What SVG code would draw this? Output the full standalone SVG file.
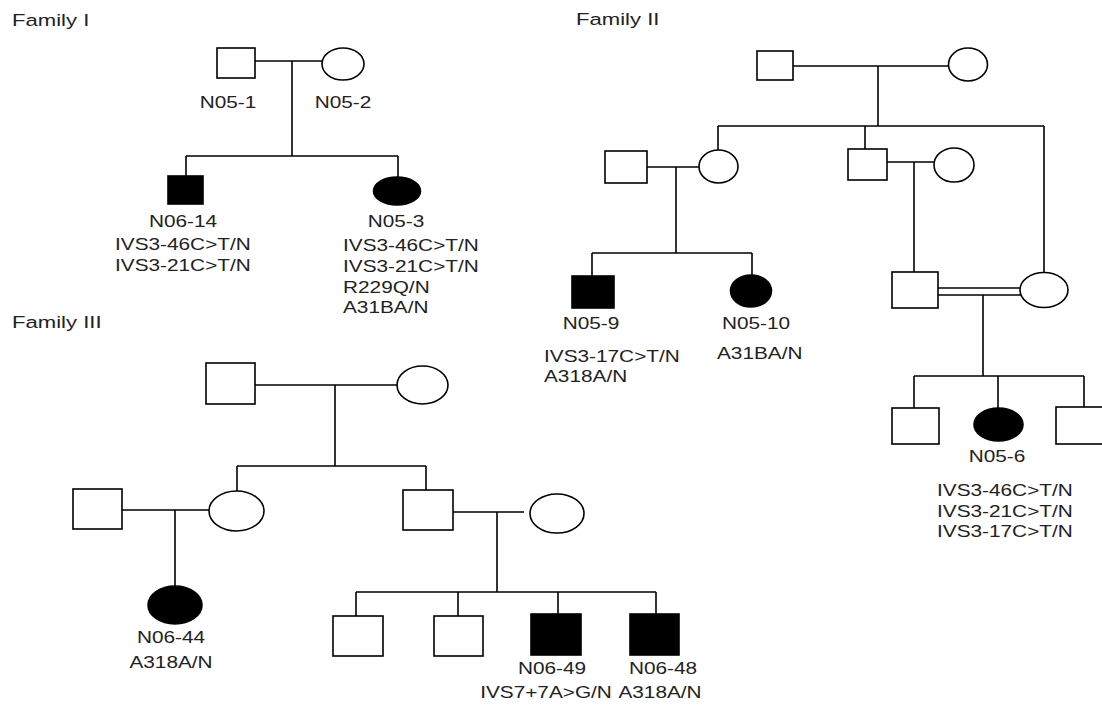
<svg xmlns="http://www.w3.org/2000/svg" width="1102" height="706" viewBox="0 0 1102 706">
<style>
.o{fill:#fff;stroke:#000;stroke-width:1.6}
.f{fill:#000;stroke:#000;stroke-width:1.6}
.c line{stroke:#000;stroke-width:1.6}
text{font-family:"Liberation Sans",Arial,sans-serif;font-size:16px;fill:#222}
.h{font-size:17px}
.m{text-anchor:middle}
</style>
<rect width="1102" height="706" fill="#fff"/>

<!-- Titles -->
<text class="h" transform="translate(12 26) scale(1.3 1)">Family I</text>
<text class="h" transform="translate(576 25) scale(1.3 1)">Family II</text>
<text class="h" transform="translate(12 328) scale(1.3 1)">Family III</text>

<!-- Connectors -->
<g id="connectors" class="c">
<!-- Family I -->
<line x1="255" y1="61" x2="322" y2="61"/>
<line x1="292" y1="61" x2="292" y2="156"/>
<line x1="186" y1="156" x2="398" y2="156"/>
<line x1="186" y1="156" x2="186" y2="176"/>
<line x1="398" y1="156" x2="398" y2="177"/>
<!-- Family II -->
<line x1="793" y1="66" x2="949" y2="66"/>
<line x1="878" y1="66" x2="878" y2="126"/>
<line x1="718" y1="126" x2="1044" y2="126"/>
<line x1="718" y1="126" x2="718" y2="150"/>
<line x1="865" y1="126" x2="865" y2="149"/>
<line x1="1044" y1="126" x2="1044" y2="272"/>
<line x1="647" y1="167" x2="699" y2="167"/>
<line x1="676" y1="167" x2="676" y2="253"/>
<line x1="592" y1="253" x2="752" y2="253"/>
<line x1="592" y1="253" x2="592" y2="276"/>
<line x1="752" y1="253" x2="752" y2="275"/>
<line x1="887" y1="162" x2="934" y2="162"/>
<line x1="914" y1="162" x2="914" y2="272"/>
<line x1="938" y1="288" x2="1020" y2="288"/>
<line x1="938" y1="295" x2="1021" y2="295"/>
<line x1="983" y1="295" x2="983" y2="376"/>
<line x1="914" y1="376" x2="1084" y2="376"/>
<line x1="914" y1="376" x2="914" y2="408"/>
<line x1="998" y1="376" x2="998" y2="408"/>
<line x1="1084" y1="376" x2="1084" y2="407"/>
<!-- Family III -->
<line x1="255" y1="385" x2="397" y2="385"/>
<line x1="335" y1="385" x2="335" y2="466"/>
<line x1="237" y1="466" x2="426" y2="466"/>
<line x1="237" y1="466" x2="237" y2="491"/>
<line x1="426" y1="466" x2="426" y2="490"/>
<line x1="122" y1="510" x2="209" y2="510"/>
<line x1="175" y1="510" x2="175" y2="586"/>
<line x1="453" y1="512" x2="524" y2="512"/>
<line x1="497" y1="512" x2="497" y2="592"/>
<line x1="356" y1="592" x2="656" y2="592"/>
<line x1="356" y1="592" x2="356" y2="616"/>
<line x1="458" y1="592" x2="458" y2="616"/>
<line x1="558" y1="592" x2="558" y2="614"/>
<line x1="656" y1="592" x2="656" y2="614"/>
</g>

<!-- Family I nodes -->
<g id="N05-1"><rect class="o" x="217" y="48" width="38" height="30"/><text class="m" transform="translate(228 108) scale(1.3 1)">N05-1</text></g>
<g id="N05-2"><ellipse class="o" cx="343" cy="64" rx="21" ry="16"/><text class="m" transform="translate(343 108) scale(1.3 1)">N05-2</text></g>
<g id="N06-14"><rect class="f" x="168" y="176" width="35" height="28"/>
<text class="m" transform="translate(183 227) scale(1.3 1)">N06-14</text>
<text transform="translate(115 250) scale(1.3 1)">IVS3-46C&gt;T/N</text>
<text transform="translate(115 271) scale(1.3 1)">IVS3-21C&gt;T/N</text></g>
<g id="N05-3"><ellipse class="f" cx="397" cy="191" rx="23.5" ry="14"/>
<text class="m" transform="translate(396 227) scale(1.3 1)">N05-3</text>
<text transform="translate(343 251) scale(1.3 1)">IVS3-46C&gt;T/N</text>
<text transform="translate(343 272) scale(1.3 1)">IVS3-21C&gt;T/N</text>
<text transform="translate(343 293) scale(1.3 1)">R229Q/N</text>
<text transform="translate(343 313) scale(1.3 1)">A31BA/N</text></g>

<!-- Family II nodes -->
<g id="II-gf"><rect class="o" x="757" y="51" width="36" height="29"/></g>
<g id="II-gm"><ellipse class="o" cx="968" cy="64.5" rx="19.5" ry="16.5"/></g>
<g id="II-f1"><rect class="o" x="605" y="151" width="42" height="32"/></g>
<g id="II-m1"><ellipse class="o" cx="718.5" cy="166.5" rx="19.5" ry="16.5"/></g>
<g id="II-s2"><rect class="o" x="848" y="149" width="39" height="31"/></g>
<g id="II-w2"><ellipse class="o" cx="954" cy="165" rx="20" ry="17"/></g>
<g id="N05-9"><rect class="f" x="572" y="276" width="42" height="32"/>
<text class="m" transform="translate(591 329) scale(1.3 1)">N05-9</text>
<text transform="translate(544 362) scale(1.3 1)">IVS3-17C&gt;T/N</text>
<text transform="translate(544 382) scale(1.3 1)">A318A/N</text></g>
<g id="N05-10"><ellipse class="f" cx="751" cy="291" rx="20.5" ry="16"/>
<text class="m" transform="translate(756 329) scale(1.3 1)">N05-10</text>
<text transform="translate(717 359) scale(1.3 1)">A31BA/N</text></g>
<g id="II-h3"><rect class="o" x="892" y="272" width="46" height="36"/></g>
<g id="II-w3"><ellipse class="o" cx="1044" cy="290" rx="24" ry="17.5"/></g>
<g id="II-c1"><rect class="o" x="892" y="408" width="47" height="36"/></g>
<g id="N05-6"><ellipse class="f" cx="998.5" cy="424.5" rx="24.5" ry="16.5"/>
<text class="m" transform="translate(997 462) scale(1.3 1)">N05-6</text>
<text transform="translate(937 496) scale(1.3 1)">IVS3-46C&gt;T/N</text>
<text transform="translate(937 517) scale(1.3 1)">IVS3-21C&gt;T/N</text>
<text transform="translate(937 537) scale(1.3 1)">IVS3-17C&gt;T/N</text></g>
<g id="II-c3"><rect class="o" x="1056" y="407" width="50" height="37"/></g>

<!-- Family III nodes -->
<g id="III-gf"><rect class="o" x="206" y="363" width="49" height="41"/></g>
<g id="III-gm"><ellipse class="o" cx="422.5" cy="385" rx="25.5" ry="19"/></g>
<g id="III-h1"><rect class="o" x="73" y="489" width="49" height="40"/></g>
<g id="III-d1"><ellipse class="o" cx="236.5" cy="511" rx="27.5" ry="20"/></g>
<g id="N06-44"><ellipse class="f" cx="175" cy="605" rx="27" ry="19"/>
<text class="m" transform="translate(171 643) scale(1.3 1)">N06-44</text>
<text class="m" transform="translate(171 668) scale(1.3 1)">A318A/N</text></g>
<g id="III-s2"><rect class="o" x="403" y="490" width="50" height="40"/></g>
<g id="III-w2"><ellipse class="o" cx="557" cy="513.5" rx="27" ry="19.5"/></g>
<g id="III-c1"><rect class="o" x="333" y="616" width="50" height="40"/></g>
<g id="III-c2"><rect class="o" x="434" y="616" width="49" height="40"/></g>
<g id="N06-49"><rect class="f" x="531" y="614" width="50" height="41"/>
<text class="m" transform="translate(552 674) scale(1.3 1)">N06-49</text>
<text class="m" transform="translate(546 698) scale(1.3 1)">IVS7+7A&gt;G/N</text></g>
<g id="N06-48"><rect class="f" x="630" y="614" width="49" height="41"/>
<text class="m" transform="translate(663 674) scale(1.3 1)">N06-48</text>
<text class="m" transform="translate(660 698) scale(1.3 1)">A318A/N</text></g>
</svg>
